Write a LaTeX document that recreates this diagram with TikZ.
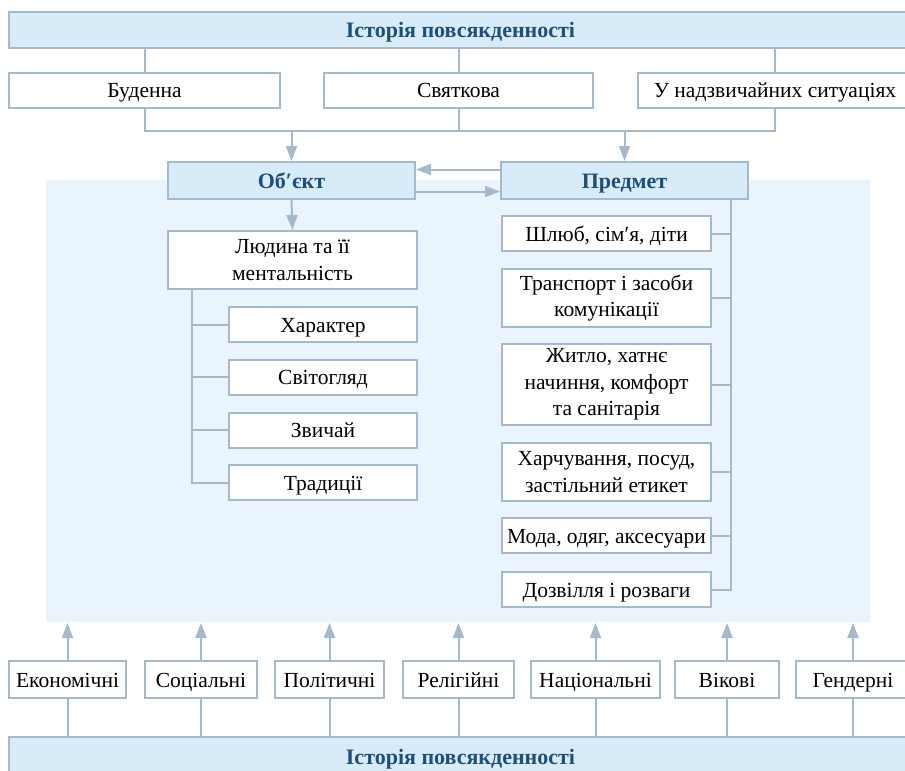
\documentclass[tikz,border=0pt]{standalone}
\usepackage{fontspec}
\setmainfont{Liberation Serif}
\usetikzlibrary{arrows.meta}
\definecolor{lnc}{HTML}{A6B9CC}
\definecolor{hdr}{HTML}{D8EBF9}
\definecolor{pnl}{HTML}{EAF4FC}
\definecolor{ttl}{HTML}{1D4F7A}
\begin{document}
\begin{tikzpicture}[x=1pt,y=-1pt,
 bx/.style={draw=lnc, line width=2pt, fill=white, inner sep=0pt, align=center, font=\fontsize{21.5}{26.5}\selectfont},
 sl/.style={text height=15.5pt, text depth=0pt},
 hd/.style={bx, sl, fill=hdr, font=\fontsize{22}{26.5}\selectfont\bfseries, text=ttl},
 conn/.style={draw=lnc, line width=2pt},
 ar/.style={conn, -{Triangle[width=11pt,length=15pt]}}]
\useasboundingbox (0,0) rectangle (905,771);
\fill[pnl] (46,180) rectangle (870,622);

% top
\node[hd, minimum width=903, minimum height=36] (top) at (460.5,29.5) {Історія повсякденності};
\node[bx, sl, minimum width=271, minimum height=35] (bud) at (144.5,90) {Буденна};
\node[bx, sl, minimum width=269, minimum height=35] (svt) at (458.5,90) {Святкова};
\node[bx, sl, minimum width=274, minimum height=35] (nad) at (775,90) {У надзвичайних ситуаціях};

\draw[conn] (top.south -| bud.north) -- (bud.north);
\draw[conn] (top.south -| svt.north) -- (svt.north);
\draw[conn] (top.south -| nad.north) -- (nad.north);

\coordinate (hy) at (0,131);
\draw[conn] (bud.south) -- (bud.south |- hy) -- (nad.south |- hy) -- (nad.south);
\draw[conn] (svt.south) -- (svt.south |- hy);

\node[hd, minimum width=247, minimum height=37] (obj) at (291.5,180.5) {Об′єкт};
\node[hd, minimum width=247, minimum height=37] (pred) at (624.5,180.5) {Предмет};

\draw[ar] (obj.north |- hy) -- (obj.north);
\draw[ar] (pred.north |- hy) -- (pred.north);
\draw[ar] ([yshift=11pt]pred.west) -- ([yshift=11pt]obj.east);
\draw[ar] ([yshift=-11pt]obj.east) -- ([yshift=-11pt]pred.west);

% left tree
\node[bx, minimum width=249, minimum height=58] (lud) at (292.5,260) {Людина та її\\ментальність};
\draw[ar] (obj.south) -- (lud.north);
\node[bx, sl, minimum width=188, minimum height=35] (har) at (323,324.5) {Характер};
\node[bx, sl, minimum width=188, minimum height=35] (svit) at (323,377) {Світогляд};
\node[bx, sl, minimum width=188, minimum height=35] (zv) at (323,430) {Звичай};
\node[bx, sl, minimum width=188, minimum height=35] (trad) at (323,482.5) {Традиції};
\coordinate (lx) at (192,0);
\draw[conn] (lud.south -| lx) -- (trad.west -| lx) -- (trad.west);
\draw[conn] (har.west -| lx) -- (har.west);
\draw[conn] (svit.west -| lx) -- (svit.west);
\draw[conn] (zv.west -| lx) -- (zv.west);

% right tree
\node[bx, sl, minimum width=209, minimum height=35] (r1) at (606.5,233.5) {Шлюб, сім′я, діти};
\node[bx, minimum width=209, minimum height=58] (r2) at (606.5,298) {Транспорт і засоби\\комунікації};
\node[bx, minimum width=209, minimum height=81] (r3) at (606.5,384.5) {Житло, хатнє\\начиння, комфорт\\та санітарія};
\node[bx, minimum width=209, minimum height=58] (r4) at (606.5,472) {Харчування, посуд,\\застільний етикет};
\node[bx, sl, minimum width=209, minimum height=35] (r5) at (606.5,535.5) {Мода, одяг, аксесуари};
\node[bx, sl, minimum width=209, minimum height=35] (r6) at (606.5,589.5) {Дозвілля і розваги};
\coordinate (rx) at (731,0);
\draw[conn] (pred.south -| rx) -- (r6.east -| rx) -- (r6.east);
\foreach \n in {r1,r2,r3,r4,r5} \draw[conn] (\n.east -| rx) -- (\n.east);

% bottom
\node[hd, minimum width=903, minimum height=40] (bot) at (460.5,757) {Історія повсякденності};
\coordinate (py) at (0,623);
\node[bx, sl, minimum width=117, minimum height=37] (b1) at (67.5,679.5) {Економічні};
\node[bx, sl, minimum width=112, minimum height=37] (b2) at (201,679.5) {Соціальні};
\node[bx, sl, minimum width=109, minimum height=37] (b3) at (329.5,679.5) {Політичні};
\node[bx, sl, minimum width=111, minimum height=37] (b4) at (458.5,679.5) {Релігійні};
\node[bx, sl, minimum width=129, minimum height=37] (b5) at (595.5,679.5) {Національні};
\node[bx, sl, minimum width=104, minimum height=37] (b6) at (727,679.5) {Вікові};
\node[bx, sl, minimum width=114, minimum height=37] (b7) at (853,679.5) {Гендерні};
\foreach \n in {b1,b2,b3,b4,b5,b6,b7} {
  \draw[ar] (\n.north) -- (\n.north |- py);
  \draw[conn] (bot.north -| \n.south) -- (\n.south);
}
\end{tikzpicture}
\end{document}
